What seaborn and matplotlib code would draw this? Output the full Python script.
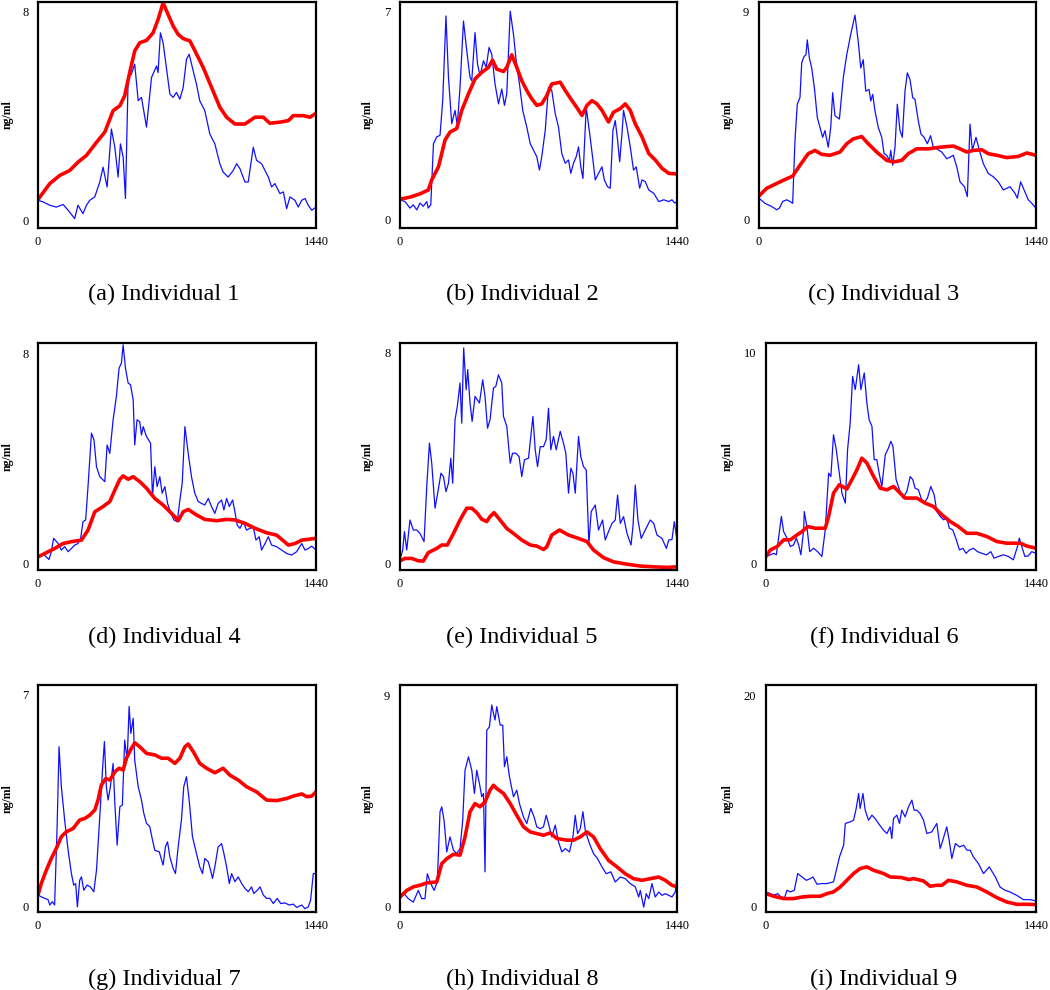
import matplotlib
matplotlib.use("Agg")
import matplotlib.pyplot as plt
import seaborn as sns

# Time in minutes (0-1440) and concentration in ng/ml.
# "blue" = noisy measured trace, "red" = thick smooth trace.

ind1_blue_t = [0, 26, 61, 95, 130, 156, 190, 207, 233, 251, 268, 294, 320, 337, 358, 380, 398, 415, 427, 441,
               453, 467, 484, 501, 519, 536, 562, 588, 614, 622, 634, 648, 666, 683, 700, 717, 735, 752, 769, 783,
               804, 821, 838, 864, 890, 916, 942, 959, 985, 1011, 1029, 1046, 1072, 1089, 1115, 1132, 1158, 1176,
               1193, 1210, 1227, 1253, 1271, 1288, 1305, 1331, 1348, 1366, 1383, 1400, 1418, 1440]
ind1_blue = [0.76, 0.7, 0.57, 0.5, 0.6, 0.38, 0.06, 0.57, 0.25, 0.57, 0.76, 0.89, 1.46, 2.03, 1.27, 3.49, 2.79, 1.65,
             2.92, 2.41, 0.83, 5.46, 5.59, 5.97, 4.57, 4.7, 3.56, 5.46, 5.9, 5.65, 7.17, 6.79, 5.78, 4.83, 4.7, 4.89,
             4.63, 5.08, 6.16, 6.35, 5.71, 5.2, 4.57, 4.19, 3.3, 2.92, 2.16, 1.84, 1.65, 1.9, 2.16, 1.97, 1.46, 1.46,
             2.79, 2.29, 2.16, 1.9, 1.65, 1.27, 1.4, 1.02, 1.08, 0.44, 0.89, 0.76, 0.5, 0.76, 0.83, 0.57, 0.38, 0.5]
ind1_red_t = [0, 61, 112, 164, 207, 251, 303, 346, 389, 424, 449, 475, 501, 527, 562, 596, 622, 648, 674, 700, 726,
              752, 787, 813, 856, 899, 942, 977, 1020, 1072, 1124, 1167, 1201, 1253, 1297, 1322, 1374, 1409, 1440]
ind1_red = [0.79, 1.4, 1.71, 1.9, 2.22, 2.48, 2.98, 3.37, 4.19, 4.38, 4.76, 5.65, 6.48, 6.79, 6.88, 7.17, 7.68, 8.32,
            7.87, 7.43, 7.11, 6.95, 6.86, 6.48, 5.84, 5.08, 4.32, 3.94, 3.68, 3.68, 3.94, 3.94, 3.71, 3.75, 3.81, 4.0,
            4.0, 3.94, 4.09]

ind2_blue_t = [0, 26, 52, 69, 87, 104, 121, 139, 147, 160, 174, 191, 208, 222, 239, 252, 269, 286, 298, 312, 330, 347,
               364, 373, 390, 403, 416, 434, 448, 463, 477, 494, 512, 529, 543, 555, 573, 590, 604, 621, 638, 659,
               677, 694, 711, 725, 737, 755, 772, 789, 807, 824, 841, 859, 876, 888, 902, 916, 928, 940, 951, 968,
               986, 1003, 1015, 1032, 1050, 1062, 1079, 1093, 1107, 1119, 1131, 1142, 1154, 1162, 1180, 1197, 1214,
               1228, 1246, 1258, 1275, 1293, 1319, 1345, 1371, 1397, 1414, 1428, 1440]
ind2_blue = [0.67, 0.61, 0.39, 0.5, 0.33, 0.56, 0.45, 0.61, 0.39, 0.5, 2.56, 2.79, 2.84, 4.01, 6.86, 4.79, 3.23, 3.68,
             3.18, 4.46, 6.69, 5.69, 4.79, 4.68, 6.3, 5.24, 4.85, 5.35, 5.13, 5.8, 5.57, 4.57, 3.9, 4.4, 3.85, 4.24,
             7.02, 6.24, 5.35, 4.57, 3.68, 3.12, 2.56, 2.34, 2.12, 1.67, 2.12, 3.01, 4.46, 4.35, 3.57, 3.12, 2.23,
             1.9, 2.01, 1.56, 1.9, 2.12, 2.45, 1.78, 1.39, 3.79, 2.9, 2.01, 1.34, 1.56, 1.78, 1.34, 1.11, 1.06, 3.01,
             3.34, 2.68, 1.95, 2.9, 3.68, 3.12, 2.45, 1.67, 1.78, 1.06, 1.34, 1.28, 1.0, 0.89, 0.61, 0.67, 0.61,
             0.67, 0.56, 0.61]
ind2_red_t = [0, 52, 104, 147, 165, 200, 234, 260, 295, 321, 356, 390, 425, 460, 481, 503, 538, 555, 581, 607, 633,
              659, 685, 711, 737, 763, 789, 833, 859, 894, 920, 946, 972, 998, 1024, 1050, 1084, 1110, 1145, 1171,
              1197, 1223, 1258, 1293, 1327, 1362, 1397, 1440]
ind2_red = [0.69, 0.76, 0.87, 1.0, 1.34, 1.78, 2.68, 2.95, 3.07, 3.68, 4.24, 4.74, 4.96, 5.13, 5.37, 5.07, 4.99, 5.13,
            5.55, 5.13, 4.68, 4.35, 4.07, 3.85, 3.9, 4.18, 4.57, 4.63, 4.35, 4.01, 3.77, 3.51, 3.85, 4.01, 3.9, 3.68,
            3.29, 3.62, 3.74, 3.9, 3.68, 3.23, 2.79, 2.23, 2.01, 1.73, 1.56, 1.54]

ind3_blue_t = [0, 31, 66, 92, 106, 123, 144, 161, 175, 187, 199, 213, 222, 234, 244, 251, 262, 274, 288, 303, 317, 331,
               343, 360, 373, 383, 395, 407, 418, 438, 456, 478, 499, 516, 529, 542, 555, 572, 581, 591, 603, 620,
               638, 650, 664, 678, 685, 695, 707, 719, 733, 745, 759, 771, 785, 799, 811, 828, 842, 858, 875, 892,
               906, 924, 950, 976, 993, 1010, 1028, 1045, 1068, 1083, 1097, 1109, 1128, 1146, 1166, 1192, 1218,
               1244, 1270, 1288, 1305, 1331, 1343, 1360, 1378, 1400, 1418, 1440]
ind3_blue = [0.93, 0.71, 0.57, 0.43, 0.5, 0.79, 0.86, 0.79, 0.71, 3.43, 5.0, 5.29, 6.79, 7.07, 7.14, 7.79, 7.0, 6.57,
             5.71, 4.43, 4.0, 3.57, 3.86, 3.14, 4.0, 5.5, 4.5, 4.43, 4.36, 6.14, 7.14, 8.07, 8.86, 7.71, 6.57, 6.93,
             5.57, 5.64, 5.14, 5.43, 4.71, 4.0, 3.57, 2.86, 2.79, 2.57, 3.0, 2.36, 3.14, 5.0, 3.86, 3.57, 5.57, 6.36,
             6.07, 5.29, 5.21, 4.29, 3.71, 3.57, 3.29, 3.64, 3.14, 3.07, 2.93, 2.64, 2.71, 2.79, 2.29, 1.64, 1.43,
             1.0, 4.14, 3.0, 3.57, 3.0, 2.43, 2.0, 1.86, 1.64, 1.29, 1.36, 1.43, 1.14, 0.93, 1.64, 1.29, 0.86, 0.71,
             0.5]
ind3_red_t = [0, 40, 92, 135, 175, 213, 256, 291, 326, 369, 395, 421, 456, 490, 534, 568, 612, 664, 698, 742, 776,
              820, 880, 941, 1010, 1045, 1080, 1114, 1158, 1192, 1236, 1288, 1348, 1392, 1440]
ind3_red = [1.03, 1.36, 1.57, 1.74, 1.89, 2.36, 2.86, 3.0, 2.83, 2.79, 2.86, 2.93, 3.29, 3.5, 3.6, 3.29, 2.93, 2.57,
            2.5, 2.57, 2.86, 3.07, 3.07, 3.14, 3.19, 3.07, 2.93, 3.0, 3.03, 2.86, 2.79, 2.69, 2.74, 2.89, 2.79]

ind4_blue_t = [0, 26, 43, 57, 69, 81, 104, 121, 138, 156, 173, 190, 207, 221, 233, 247, 259, 277, 290, 303, 320, 346,
               358, 372, 389, 406, 420, 432, 441, 453, 467, 479, 493, 501, 513, 527, 536, 545, 562, 583, 593, 605,
               617, 631, 643, 657, 671, 686, 704, 721, 735, 747, 761, 778, 795, 812, 830, 847, 864, 882, 899, 916,
               933, 951, 963, 977, 991, 1008, 1020, 1032, 1046, 1063, 1080, 1098, 1115, 1129, 1146, 1158, 1176,
               1193, 1210, 1236, 1262, 1288, 1314, 1340, 1366, 1383, 1400, 1418, 1440]
ind4_blue = [0.19, 0.38, 0.25, 0.15, 0.45, 0.96, 0.76, 0.51, 0.64, 0.45, 0.57, 0.7, 0.76, 0.96, 1.59, 1.66, 2.93,
             4.97, 4.71, 3.69, 3.31, 3.12, 4.52, 4.2, 5.48, 6.37, 7.45, 7.64, 8.34, 7.45, 6.88, 6.82, 6.24, 4.52,
             5.48, 5.41, 4.9, 5.22, 4.84, 4.59, 2.55, 3.69, 2.93, 3.31, 2.68, 2.93, 2.29, 1.97, 1.66, 1.59, 2.42,
             3.06, 5.22, 4.2, 3.31, 2.68, 2.36, 2.29, 2.23, 2.48, 2.17, 1.91, 2.29, 2.42, 2.04, 2.48, 2.17, 2.42,
             1.97, 1.46, 1.34, 1.59, 1.27, 1.34, 1.4, 0.89, 1.02, 0.51, 0.76, 1.02, 0.7, 0.64, 0.51, 0.38, 0.32,
             0.45, 0.76, 0.51, 0.57, 0.66, 0.51]
ind4_red_t = [0, 43, 86, 130, 173, 225, 259, 294, 337, 372, 398, 424, 441, 467, 493, 527, 562, 605, 648, 683, 709,
              726, 752, 778, 821, 864, 925, 977, 1020, 1072, 1124, 1184, 1236, 1267, 1297, 1331, 1366, 1400, 1440]
ind4_red = [0.25, 0.41, 0.57, 0.76, 0.83, 0.89, 1.27, 1.97, 2.17, 2.36, 2.8, 3.21, 3.34, 3.21, 3.31, 3.12, 2.87,
            2.48, 2.23, 1.97, 1.78, 1.63, 1.97, 2.06, 1.85, 1.68, 1.63, 1.68, 1.66, 1.53, 1.34, 1.17, 1.08, 0.89,
            0.7, 0.76, 0.89, 0.92, 0.96]

ind5_blue_t = [0, 14, 23, 35, 52, 69, 87, 104, 125, 139, 153, 165, 182, 196, 213, 226, 239, 252, 264, 274, 286, 298,
               312, 321, 331, 344, 352, 364, 375, 390, 413, 430, 442, 455, 468, 486, 498, 512, 529, 538, 555, 573,
               585, 602, 619, 633, 647, 668, 680, 691, 703, 715, 729, 746, 760, 772, 784, 798, 812, 833, 850, 862,
               876, 888, 899, 911, 928, 940, 954, 968, 982, 994, 1015, 1032, 1053, 1067, 1084, 1102, 1119, 1131,
               1145, 1162, 1180, 1201, 1211, 1223, 1237, 1254, 1275, 1301, 1319, 1336, 1362, 1385, 1397, 1414,
               1426, 1440]
ind5_blue = [0.13, 0.51, 1.21, 0.51, 1.65, 1.27, 1.27, 1.14, 0.83, 2.92, 4.57, 3.81, 2.1, 2.67, 3.43, 3.3, 2.73,
             3.05, 4.0, 3.05, 5.46, 5.97, 6.86, 5.33, 8.19, 6.6, 7.37, 6.1, 5.4, 6.35, 6.1, 6.98, 6.35, 5.14, 5.46,
             6.67, 6.73, 7.17, 6.86, 5.59, 5.21, 3.81, 4.19, 4.19, 4.06, 3.3, 3.94, 4.0, 4.83, 5.59, 4.32, 3.68,
             4.44, 4.44, 4.7, 5.9, 4.32, 4.83, 4.32, 5.02, 4.57, 4.19, 2.67, 3.62, 3.43, 2.67, 4.83, 4.06, 3.68,
             3.56, 0.76, 1.97, 2.22, 1.27, 1.65, 0.89, 1.21, 1.52, 1.65, 2.6, 1.52, 1.78, 1.14, 0.7, 1.4, 2.98,
             1.65, 0.95, 1.27, 1.65, 1.52, 1.08, 0.95, 0.57, 0.89, 0.91, 1.59, 0.89]
ind5_red_t = [0, 26, 61, 95, 121, 147, 191, 217, 246, 278, 312, 347, 373, 399, 425, 451, 468, 489, 520, 555, 590,
              633, 677, 711, 746, 763, 789, 829, 876, 928, 972, 1006, 1058, 1110, 1180, 1249, 1319, 1388, 1440]
ind5_red = [0.1, 0.19, 0.19, 0.1, 0.09, 0.41, 0.57, 0.7, 0.7, 1.14, 1.65, 2.1, 2.1, 1.93, 1.68, 1.59, 1.78, 1.93,
            1.65, 1.33, 1.14, 0.89, 0.7, 0.66, 0.53, 0.63, 1.08, 1.27, 1.08, 0.95, 0.83, 0.51, 0.22, 0.06, -0.03,
            -0.1, -0.13, -0.15, -0.13]

ind6_blue_t = [0, 23, 41, 55, 67, 82, 94, 112, 130, 147, 162, 174, 186, 201, 204, 218, 233, 254, 275, 298, 316, 334,
               346, 360, 375, 391, 405, 423, 435, 449, 462, 476, 494, 506, 524, 538, 550, 565, 577, 591, 605, 618,
               636, 653, 666, 677, 694, 712, 730, 751, 769, 783, 795, 813, 827, 843, 861, 879, 897, 911, 929, 947,
               964, 978, 996, 1015, 1032, 1050, 1067, 1085, 1106, 1128, 1151, 1177, 1199, 1216, 1239, 1266, 1293,
               1319, 1341, 1351, 1364, 1381, 1399, 1417, 1440]
ind6_blue = [0.32, 0.4, 0.47, 0.4, 1.19, 2.22, 1.5, 1.19, 0.79, 0.87, 1.19, 0.87, 0.4, 1.58, 2.45, 1.74, 0.55, 0.71,
             0.55, 0.32, 1.58, 4.27, 4.11, 6.09, 5.38, 4.27, 3.32, 2.85, 5.38, 6.65, 8.86, 8.23, 9.41, 8.23, 9.02,
             7.59, 6.8, 6.49, 4.91, 4.91, 4.19, 3.64, 5.14, 5.46, 5.78, 5.54, 3.96, 3.48, 3.09, 3.4, 4.11, 3.96,
             3.56, 3.48, 3.09, 2.85, 3.09, 3.64, 3.24, 2.45, 2.22, 2.06, 2.14, 1.66, 1.58, 1.11, 0.63, 0.71, 0.47,
             0.63, 0.71, 0.55, 0.47, 0.4, 0.55, 0.24, 0.32, 0.4, 0.32, 0.16, 0.79, 1.19, 0.79, 0.32, 0.35, 0.55,
             0.47]
ind6_red_t = [0, 23, 59, 94, 130, 165, 192, 222, 263, 316, 334, 360, 391, 431, 458, 485, 511, 538, 574, 609, 645,
              680, 716, 742, 804, 849, 893, 938, 982, 1026, 1071, 1124, 1177, 1231, 1284, 1355, 1390, 1440]
ind6_red = [0.32, 0.63, 0.79, 1.11, 1.11, 1.34, 1.5, 1.74, 1.66, 1.66, 2.22, 3.32, 3.72, 3.52, 3.96, 4.43, 4.98,
            4.75, 4.11, 3.56, 3.48, 3.64, 3.32, 3.09, 3.09, 2.85, 2.69, 2.3, 1.98, 1.74, 1.42, 1.42, 1.27, 1.03,
            0.95, 0.95, 0.82, 0.71]

ind7_blue_t = [0, 17, 35, 52, 61, 74, 86, 99, 109, 121, 138, 156, 173, 185, 195, 204, 216, 225, 237, 254, 271, 289,
               303, 320, 334, 344, 354, 363, 375, 389, 398, 410, 424, 437, 449, 462, 472, 481, 493, 501, 519, 536,
               548, 562, 579, 593, 605, 628, 648, 660, 671, 683, 700, 712, 726, 743, 755, 769, 783, 800, 821, 838,
               852, 864, 882, 894, 904, 916, 933, 951, 963, 977, 991, 1003, 1020, 1037, 1055, 1072, 1089, 1106,
               1118, 1136, 1150, 1167, 1184, 1201, 1219, 1239, 1257, 1279, 1302, 1322, 1340, 1366, 1383, 1400,
               1412, 1426, 1440]
ind7_blue = [0.39, 0.33, 0.28, 0.24, 0.06, 0.17, 0.06, 2.65, 5.29, 3.97, 2.87, 1.87, 1.1, 0.72, 0.77, 0.0, 0.88,
             0.99, 0.55, 0.72, 0.66, 0.5, 1.21, 2.98, 4.52, 5.46, 3.97, 3.53, 3.97, 4.74, 3.42, 2.04, 3.31, 3.36,
             5.51, 4.85, 6.62, 5.73, 6.23, 4.85, 3.97, 3.53, 3.09, 2.76, 2.65, 2.21, 1.87, 1.82, 1.38, 1.98, 2.15,
             1.65, 1.27, 1.1, 1.98, 2.87, 3.97, 4.3, 3.53, 2.32, 1.76, 1.32, 1.1, 1.6, 1.49, 1.21, 0.94, 1.32, 1.98,
             2.09, 1.76, 1.32, 0.77, 1.1, 0.83, 0.99, 0.77, 0.61, 0.5, 0.66, 0.44, 0.55, 0.66, 0.39, 0.28, 0.28,
             0.11, 0.28, 0.11, 0.13, 0.06, 0.09, -0.02, 0.06, -0.06, 0.0, 0.22, 1.1, 1.1]
ind7_red_t = [0, 17, 43, 69, 95, 121, 147, 182, 216, 242, 268, 294, 311, 328, 351, 372, 398, 420, 441, 458, 479,
              501, 527, 562, 605, 640, 674, 709, 735, 761, 778, 804, 838, 873, 916, 959, 994, 1037, 1080, 1132,
              1184, 1236, 1288, 1322, 1366, 1392, 1418, 1440]
ind7_red = [0.39, 0.77, 1.21, 1.6, 1.93, 2.32, 2.48, 2.59, 2.87, 2.92, 3.03, 3.2, 3.53, 4.02, 4.24, 4.19, 4.46,
            4.58, 4.52, 4.91, 5.18, 5.42, 5.29, 5.07, 5.02, 4.91, 4.91, 4.74, 4.91, 5.29, 5.38, 5.13, 4.74, 4.58,
            4.43, 4.58, 4.35, 4.19, 3.97, 3.8, 3.53, 3.51, 3.58, 3.66, 3.73, 3.64, 3.66, 3.8]

ind8_blue_t = [0, 21, 43, 69, 95, 113, 130, 142, 160, 177, 194, 208, 217, 229, 243, 260, 278, 295, 312, 326, 338,
               356, 373, 387, 399, 413, 425, 434, 442, 451, 465, 477, 486, 494, 503, 521, 534, 543, 555, 569, 590,
               607, 621, 642, 659, 680, 697, 711, 729, 746, 760, 772, 789, 807, 824, 841, 859, 881, 899, 911, 923,
               937, 951, 963, 985, 1006, 1027, 1050, 1072, 1096, 1119, 1145, 1171, 1197, 1223, 1241, 1249, 1267,
               1280, 1293, 1310, 1327, 1345, 1362, 1379, 1397, 1414, 1431, 1440]
ind8_blue = [0.33, 0.54, 0.33, 0.18, 0.68, 0.33, 0.33, 1.39, 0.97, 0.68, 1.04, 4.03, 4.24, 3.67, 2.32, 2.96, 2.39,
             2.25, 2.46, 3.67, 5.8, 6.37, 5.8, 4.81, 5.8, 5.23, 4.67, 4.81, 1.47, 7.5, 7.65, 8.58, 8.22, 7.94, 8.51,
             7.72, 7.72, 5.95, 6.37, 5.52, 4.67, 4.95, 4.38, 3.81, 3.53, 4.17, 3.81, 3.39, 3.31, 3.39, 3.88, 3.53,
             2.96, 3.46, 2.75, 2.32, 2.46, 2.32, 2.96, 3.88, 3.1, 3.31, 4.03, 3.24, 2.67, 2.25, 2.03, 1.68, 1.39,
             1.47, 1.04, 1.25, 1.18, 0.97, 0.83, 0.4, 0.68, -0.03, 0.54, 0.33, 0.97, 0.4, 0.61, 0.47, 0.54, 0.47,
             0.4, 0.61, 1.32]
ind8_red_t = [0, 35, 69, 104, 139, 191, 217, 243, 278, 312, 338, 364, 390, 416, 442, 468, 486, 503, 538, 573, 607,
              642, 677, 711, 746, 781, 815, 868, 902, 937, 972, 1006, 1041, 1084, 1128, 1171, 1214, 1258, 1301,
              1345, 1379, 1414, 1440]
ind8_red = [0.4, 0.68, 0.83, 0.9, 1.0, 1.04, 1.82, 2.03, 2.22, 2.18, 2.96, 4.03, 4.38, 4.24, 4.45, 4.95, 5.16,
            5.02, 4.81, 4.38, 3.88, 3.39, 3.17, 3.1, 3.03, 3.13, 2.89, 2.82, 2.82, 2.96, 3.17, 2.96, 2.46, 1.96,
            1.68, 1.39, 1.18, 1.11, 1.18, 1.25, 1.11, 0.9, 0.83]

ind9_blue_t = [0, 23, 41, 62, 80, 99, 112, 130, 151, 169, 192, 215, 236, 250, 272, 298, 325, 360, 375, 392, 414,
               423, 449, 467, 481, 494, 502, 517, 529, 547, 565, 582, 600, 627, 645, 662, 671, 680, 698, 712, 724,
               742, 760, 778, 790, 804, 822, 840, 858, 884, 911, 929, 943, 964, 977, 991, 1010, 1032, 1054, 1072,
               1089, 1106, 1133, 1160, 1191, 1223, 1248, 1275, 1301, 1337, 1373, 1408, 1440]
ind9_blue = [1.36, 1.2, 1.04, 1.2, 0.88, 0.82, 1.52, 1.36, 1.52, 3.1, 2.78, 2.46, 2.62, 2.78, 2.09, 2.15, 2.15, 2.31,
             3.41, 4.68, 5.78, 7.84, 7.99, 8.15, 9.26, 10.68, 9.26, 10.68, 9.1, 8.15, 8.63, 8.31, 7.84, 7.2, 6.89,
             7.52, 6.41, 8.31, 8.63, 7.84, 9.1, 8.47, 9.42, 10.05, 9.1, 9.1, 8.78, 8.15, 6.89, 7.05, 7.84, 5.47,
             6.26, 7.52, 6.26, 4.52, 5.94, 5.62, 5.78, 5.31, 5.31, 4.68, 4.04, 3.1, 3.73, 2.78, 1.83, 1.52, 1.36,
             1.04, 0.63, 0.63, 0.51]
ind9_red_t = [0, 41, 94, 147, 192, 236, 289, 325, 360, 396, 431, 467, 502, 538, 574, 627, 662, 724, 760, 787, 840,
              875, 911, 938, 973, 1018, 1071, 1124, 1177, 1231, 1284, 1337, 1390, 1440]
ind9_red = [1.2, 0.95, 0.73, 0.73, 0.88, 0.95, 0.95, 1.2, 1.36, 1.83, 2.46, 3.1, 3.57, 3.73, 3.41, 3.1, 2.78, 2.72,
            2.53, 2.62, 2.4, 1.9, 1.99, 1.99, 2.46, 2.31, 1.99, 1.83, 1.36, 0.82, 0.41, 0.19, 0.19, 0.16]

captions = ["(a) Individual 1", "(b) Individual 2", "(c) Individual 3",
            "(d) Individual 4", "(e) Individual 5", "(f) Individual 6",
            "(g) Individual 7", "(h) Individual 8", "(i) Individual 9"]
y_top_labels = [8, 7, 9, 8, 8, 10, 7, 9, 20]
x_tick_labels = [0, 1440]

series = [
    (ind1_blue_t, ind1_blue, ind1_red_t, ind1_red),
    (ind2_blue_t, ind2_blue, ind2_red_t, ind2_red),
    (ind3_blue_t, ind3_blue, ind3_red_t, ind3_red),
    (ind4_blue_t, ind4_blue, ind4_red_t, ind4_red),
    (ind5_blue_t, ind5_blue, ind5_red_t, ind5_red),
    (ind6_blue_t, ind6_blue, ind6_red_t, ind6_red),
    (ind7_blue_t, ind7_blue, ind7_red_t, ind7_red),
    (ind8_blue_t, ind8_blue, ind8_red_t, ind8_red),
    (ind9_blue_t, ind9_blue, ind9_red_t, ind9_red),
]
for i, (bt, bv, rt, rv) in enumerate(series):
    assert len(bt) == len(bv), (i + 1, 'blue', len(bt), len(bv))
    assert len(rt) == len(rv), (i + 1, 'red', len(rt), len(rv))

# Layout (pixels in a 1050x990 canvas): box left, top, right, bottom
W, H = 1050, 990
BOXES = [(38, 2, 316, 228), (400, 2, 677, 228), (759, 2, 1036, 228),
         (38, 343, 316, 570), (400, 343, 677, 570), (766, 343, 1036, 570),
         (38, 685, 316, 912), (400, 685, 677, 912), (766, 685, 1036, 912)]
YLIMS = [(-0.3, 8.35), (-0.28, 7.33), (-0.36, 9.43),
         (-0.25, 8.41), (-0.25, 8.38), (-0.32, 10.44),
         (-0.17, 7.33), (-0.24, 9.43), (-0.54, 20.95)]
# right edge (pixels) of the rotated "ng/ml" label
YLABEL_X = [14, 374, 734, 14, 374, 734, 14, 374, 734]
CAPTION_X = [164, 522, 884]
CAPTION_BASE = [300, 643, 985]

COLOR_BLUE = "#1010ff"
COLOR_RED = "#ff0000"

sns.set_theme(style="white")
plt.rcParams['font.family'] = ['Liberation Serif', 'DejaVu Serif']

fig = plt.figure(figsize=(10.5, 9.9), dpi=100)

for i, (bt, bv, rt, rv) in enumerate(series):
    left, top, right, bottom = BOXES[i]
    ax = fig.add_axes([left / W, 1 - bottom / H, (right - left) / W, (bottom - top) / H])
    sns.lineplot(x=bt, y=bv, color=COLOR_BLUE, linewidth=0.9, ax=ax, sort=False)
    sns.lineplot(x=rt, y=rv, color=COLOR_RED, linewidth=2.6, ax=ax, sort=False)
    ax.set_xlim(0, 1440)
    ax.set_ylim(*YLIMS[i])
    ax.set_xticks(x_tick_labels)
    ax.set_xticklabels([str(v) for v in x_tick_labels])
    ax.set_yticks([0, y_top_labels[i]])
    ax.set_yticklabels(["0", str(y_top_labels[i])])
    ax.tick_params(axis='both', length=0, labelsize=9, colors='black')
    ax.tick_params(axis='x', pad=6)
    ax.tick_params(axis='y', pad=7)
    for sp in ax.spines.values():
        sp.set_visible(True)
        sp.set_color('black')
        sp.set_linewidth(1.6)
    ax.set_xlabel("")
    ax.set_ylabel("ng/ml", fontsize=8.5, fontweight='bold', color='black')
    ax.yaxis.set_label_coords((YLABEL_X[i] - left) / (right - left), 0.5)
    ax.grid(False)

    row, col = divmod(i, 3)
    fig.text(CAPTION_X[col] / W, 1 - CAPTION_BASE[row] / H, captions[i],
             ha='center', va='baseline', fontsize=17.5, color='black')

fig.savefig("out.png", dpi=100, facecolor='white')
